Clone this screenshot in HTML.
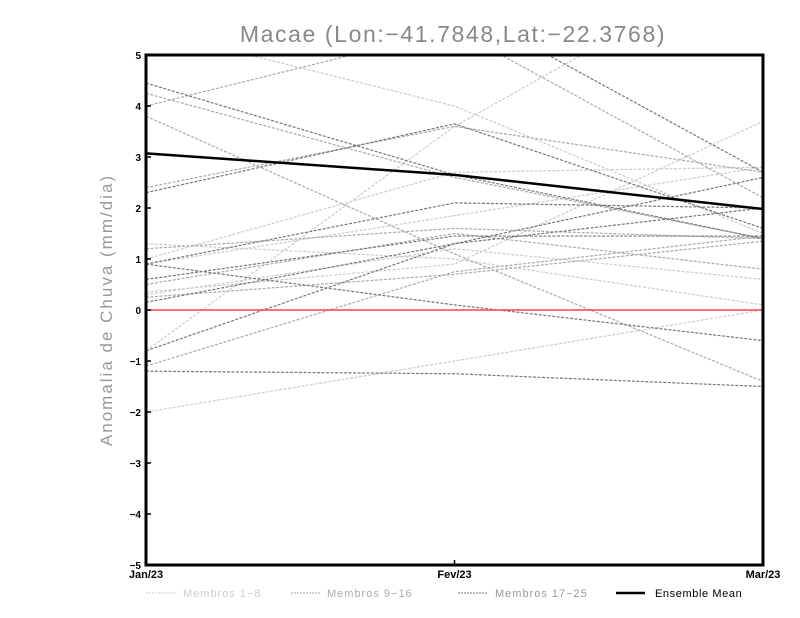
<!DOCTYPE html>
<html><head><meta charset="utf-8"><style>
body{margin:0;background:#fff;}
svg{display:block;font-family:"Liberation Sans",sans-serif;}
</style></head><body>
<svg id="chart" width="800" height="618">
<defs><clipPath id="clip"><rect x="146" y="55" width="617" height="510"/></clipPath></defs>
<text x="453" y="42" text-anchor="middle" font-size="23" fill="#888" letter-spacing="1.6">Macae (Lon:−41.7848,Lat:−22.3768)</text>
<text transform="translate(112,310) rotate(-90)" text-anchor="middle" font-size="17" fill="#999" letter-spacing="2">Anomalia de Chuva (mm/dia)</text>
<g id="series" clip-path="url(#clip)"></g>
<g id="axes"></g>
<g id="legend">
<line x1="146" y1="593" x2="175" y2="593" stroke="#ccc" stroke-dasharray="2,1"/>
<text x="183" y="597" font-size="11" fill="#ccc" letter-spacing="1">Membros 1−8</text>
<line x1="291" y1="593" x2="320" y2="593" stroke="#aaa" stroke-dasharray="2,1"/>
<text x="327" y="597" font-size="11" fill="#aaa" letter-spacing="1">Membros 9−16</text>
<line x1="458" y1="593" x2="487" y2="593" stroke="#777" stroke-dasharray="2,1"/>
<text x="495" y="597" font-size="11" fill="#999" letter-spacing="1">Membros 17−25</text>
<line x1="616" y1="593" x2="645" y2="593" stroke="#000" stroke-width="2.5"/>
<text x="655" y="597" font-size="11" fill="#000" letter-spacing="0.6">Ensemble Mean</text>
</g>
</svg>
<script>
const categories = ["Jan/23","Fev/23","Mar/23"];
const yTicks = [-5,-4,-3,-2,-1,0,1,2,3,4,5];
const membros1to8 = [[5.5,4.0,1.5],[1.3,1.0,0.1],[0.9,1.85,2.8],[0.3,1.2,0.6],[-0.8,3.6,7],[-2.0,-1.0,0.0],[1.0,2.7,2.8],[0.35,0.9,3.7]];
const membros9to16 = [[4.25,2.6,1.4],[2.4,3.6,2.7],[0.25,0.7,1.35],[-1.1,0.75,1.45],[1.2,1.6,1.4],[3.8,1.1,-1.4],[4.0,5.5,2.2],[0.5,1.5,0.8]];
const membros17to25 = [[4.45,2.65,1.4],[2.3,3.65,1.6],[0.9,0.1,-0.6],[0.6,1.45,1.45],[0.15,1.3,2.6],[-0.8,1.3,2.0],[-1.2,-1.25,-1.5],[6,6,2.7],[0.9,2.1,2.0]];
const ensembleMean = [3.07,2.65,1.98];
const zeroLine = 0;

const NS="http://www.w3.org/2000/svg";
const X0=146,X1=763,Y0=565,Y1=55;
function xs(i){return X0+(X1-X0)*i/(categories.length-1);}
function ys(v){return Y0-(v+5)/10*(Y0-Y1);}
const g=document.getElementById('series'), ax=document.getElementById('axes');
function mk(t,a,p){const e=document.createElementNS(NS,t);for(const k in a)e.setAttribute(k,a[k]);p.appendChild(e);return e;}
function pts(arr){return arr.map((v,i)=>xs(i)+','+ys(v)).join(' ');}
[[membros1to8,'#ccc','membro-1-8-line'],[membros9to16,'#aaa','membro-9-16-line'],[membros17to25,'#777','membro-17-25-line']].forEach(([set,c,n])=>{
  set.forEach(s=>{
    const l=mk('polyline',{points:pts(s),fill:'none',stroke:c,'stroke-width':1.2,'stroke-dasharray':'3,1.5'},g);
    
    
  });
});
const z=mk('line',{x1:X0,x2:X1,y1:ys(zeroLine),y2:ys(zeroLine),stroke:'#f44','stroke-width':1.5},g);


const m=mk('polyline',{points:pts(ensembleMean),fill:'none',stroke:'#000','stroke-width':2.5},g);


const fr=mk('rect',{x:X0,y:Y1,width:X1-X0,height:Y0-Y1,fill:'none',stroke:'#000','stroke-width':3},ax);


yTicks.forEach(v=>{
  mk('line',{x1:X0,x2:X0+5,y1:ys(v),y2:ys(v),stroke:'#000','stroke-width':1.5},ax);
  const t=mk('text',{x:X0-5,y:ys(v)+4,'text-anchor':'end','font-size':10,'font-weight':'bold'},ax);
  t.textContent=(v<0?'−'+(-v):v);
  
  
});
categories.forEach((c,i)=>{
  mk('line',{x1:xs(i),x2:xs(i),y1:Y0,y2:Y0-5,stroke:'#000','stroke-width':1.5},ax);
  const t=mk('text',{x:xs(i),y:Y0+13,'text-anchor':'middle','font-size':11,'font-weight':'bold'},ax);
  t.textContent=c;
  
  
});
</script>
</body></html>
